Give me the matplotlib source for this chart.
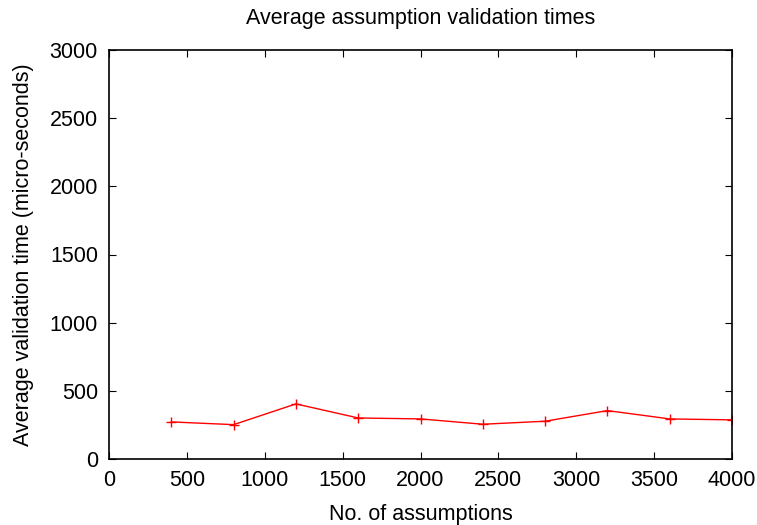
import matplotlib
matplotlib.use("Agg")
import matplotlib.pyplot as plt

assumptions = [400, 800, 1200, 1600, 2000, 2400, 2800, 3200, 3600, 4000]
avg_time = [272, 252, 404, 301, 294, 255, 277, 355, 294, 287]

plt.rcParams['font.family'] = ['Liberation Sans', 'DejaVu Sans']
fig = plt.figure(figsize=(7.57, 5.25), dpi=100)
ax = fig.add_axes([109/757, 1-459/525, (732-109)/757, (459-50)/525])
ax.plot(assumptions, avg_time, color='red', linewidth=1, marker='+', markersize=7, markeredgewidth=1)
ax.set_xlim(0, 4000)
ax.set_ylim(0, 3000)
ax.set_xticks(range(0, 4001, 500))
ax.set_yticks(range(0, 3001, 500))
ax.tick_params(direction='in', top=True, right=True, length=5, labelsize=15.5, pad=8)
for s in ax.spines.values():
    s.set_linewidth(1.2)
ax.set_title("Average assumption validation times", fontsize=15.5, pad=19)
ax.set_xlabel("No. of assumptions", fontsize=15.5, labelpad=9)
ax.set_ylabel("Average validation time (micro-seconds)", fontsize=15.5, labelpad=11)
fig.savefig("out.png", dpi=100)
